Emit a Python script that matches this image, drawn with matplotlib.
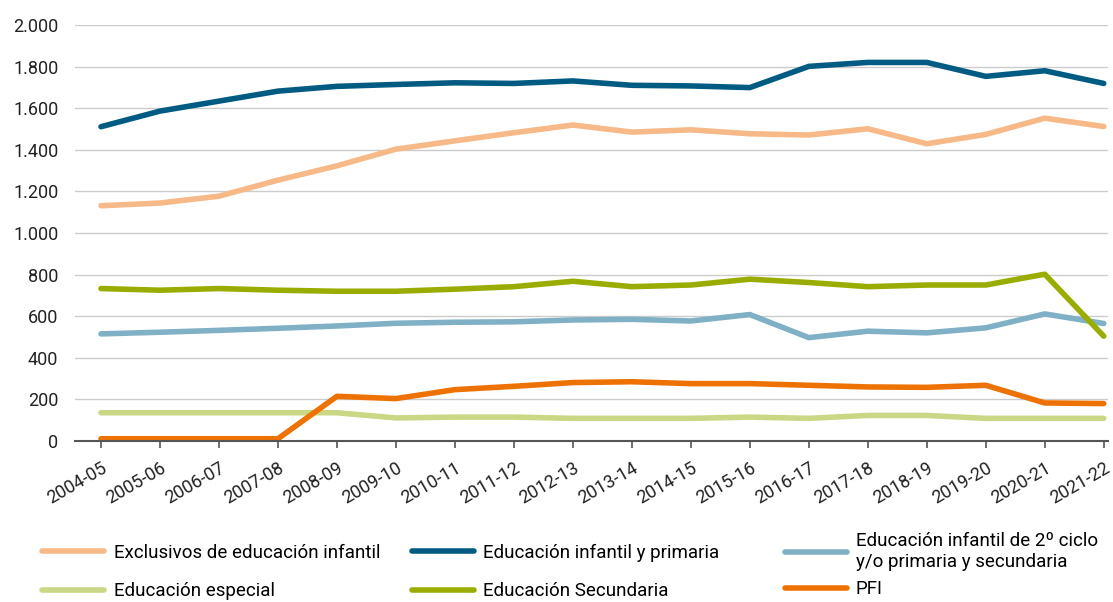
import matplotlib
matplotlib.use("Agg")
import matplotlib.pyplot as plt

plt.rcParams['font.family'] = ['Roboto', 'DejaVu Sans']

# School years
cursos = ['2004-05', '2005-06', '2006-07', '2007-08', '2008-09', '2009-10',
          '2010-11', '2011-12', '2012-13', '2013-14', '2014-15', '2015-16',
          '2016-17', '2017-18', '2018-19', '2019-20', '2020-21', '2021-22']

# Values
exclusivos_infantil = [1131, 1144, 1177, 1254, 1323, 1403, 1443, 1482, 1519, 1485,
                       1496, 1477, 1471, 1501, 1429, 1474, 1552, 1512]
infantil_primaria = [1511, 1586, 1634, 1682, 1705, 1714, 1722, 1719, 1731, 1710,
                     1707, 1699, 1801, 1820, 1820, 1753, 1780, 1719]
infantil_2ciclo = [515, 523, 532, 542, 553, 566, 571, 573, 582, 585,
                   577, 608, 497, 528, 520, 544, 611, 565]
especial = [136, 136, 136, 136, 136, 111, 115, 115, 109, 109,
            109, 115, 109, 123, 123, 109, 109, 109]
secundaria = [733, 725, 733, 725, 720, 720, 730, 742, 768, 742,
              750, 778, 762, 742, 750, 750, 802, 504]
pfi = [11, 11, 11, 11, 215, 204, 247, 263, 281, 285,
       276, 276, 268, 260, 258, 268, 183, 180]

fig = plt.figure(figsize=(11.13, 6.02), dpi=100)
ax = fig.add_axes([0.0674, 0.2674, 0.928, 0.6911])

x = range(len(cursos))
lw = 4
l1, = ax.plot(x, exclusivos_infantil, color='#F7B987', lw=lw, solid_capstyle='round',
              label='Exclusivos de educación infantil')
l2, = ax.plot(x, infantil_primaria, color='#005B82', lw=lw, solid_capstyle='round',
              label='Educación infantil y primaria')
l3, = ax.plot(x, infantil_2ciclo, color='#80B0C5', lw=lw, solid_capstyle='round',
              label='Educación infantil de 2º ciclo\ny/o primaria y secundaria')
l4, = ax.plot(x, especial, color='#CAD886', lw=lw, solid_capstyle='round',
              label='Educación especial')
l5, = ax.plot(x, secundaria, color='#99AD00', lw=lw, solid_capstyle='round',
              label='Educación Secundaria')
l6, = ax.plot(x, pfi, color='#EE7203', lw=lw, solid_capstyle='round', label='PFI')

ax.set_ylim(0, 2000)
ax.set_xlim(-0.44, 17.07)
ax.set_yticks(range(0, 2001, 200))
ax.set_yticklabels([f'{v:,}'.replace(',', '.') for v in range(0, 2001, 200)])
ax.set_xticks(list(x))
ax.set_xticklabels(cursos, rotation=30, ha='right', rotation_mode='anchor')

ax.grid(axis='y', color='#CCCCCC', lw=1)
ax.set_axisbelow(True)
for s in ['top', 'right', 'left']:
    ax.spines[s].set_visible(False)
ax.spines['bottom'].set_color('#555555')
ax.spines['bottom'].set_linewidth(1.5)
ax.tick_params(axis='y', length=0, pad=12, labelsize=13, colors='#222222')
ax.tick_params(axis='x', length=5, width=1.2, color='#555555', pad=8,
               labelsize=13, labelcolor='#222222')

# legend in three columns
leg_kw = dict(frameon=False, fontsize=13.5, handlelength=3.3, handletextpad=0.5,
              loc='center left', borderaxespad=0, borderpad=0)
fig.legend(handles=[l1, l4], bbox_to_anchor=(0.038, 0.05), labelspacing=1.1, **leg_kw)
fig.legend(handles=[l2, l5], bbox_to_anchor=(0.370, 0.05), labelspacing=1.1, **leg_kw)
fig.legend(handles=[l3, l6], bbox_to_anchor=(0.705, 0.061), labelspacing=0.5, **leg_kw)

fig.savefig('out.png', dpi=100)
